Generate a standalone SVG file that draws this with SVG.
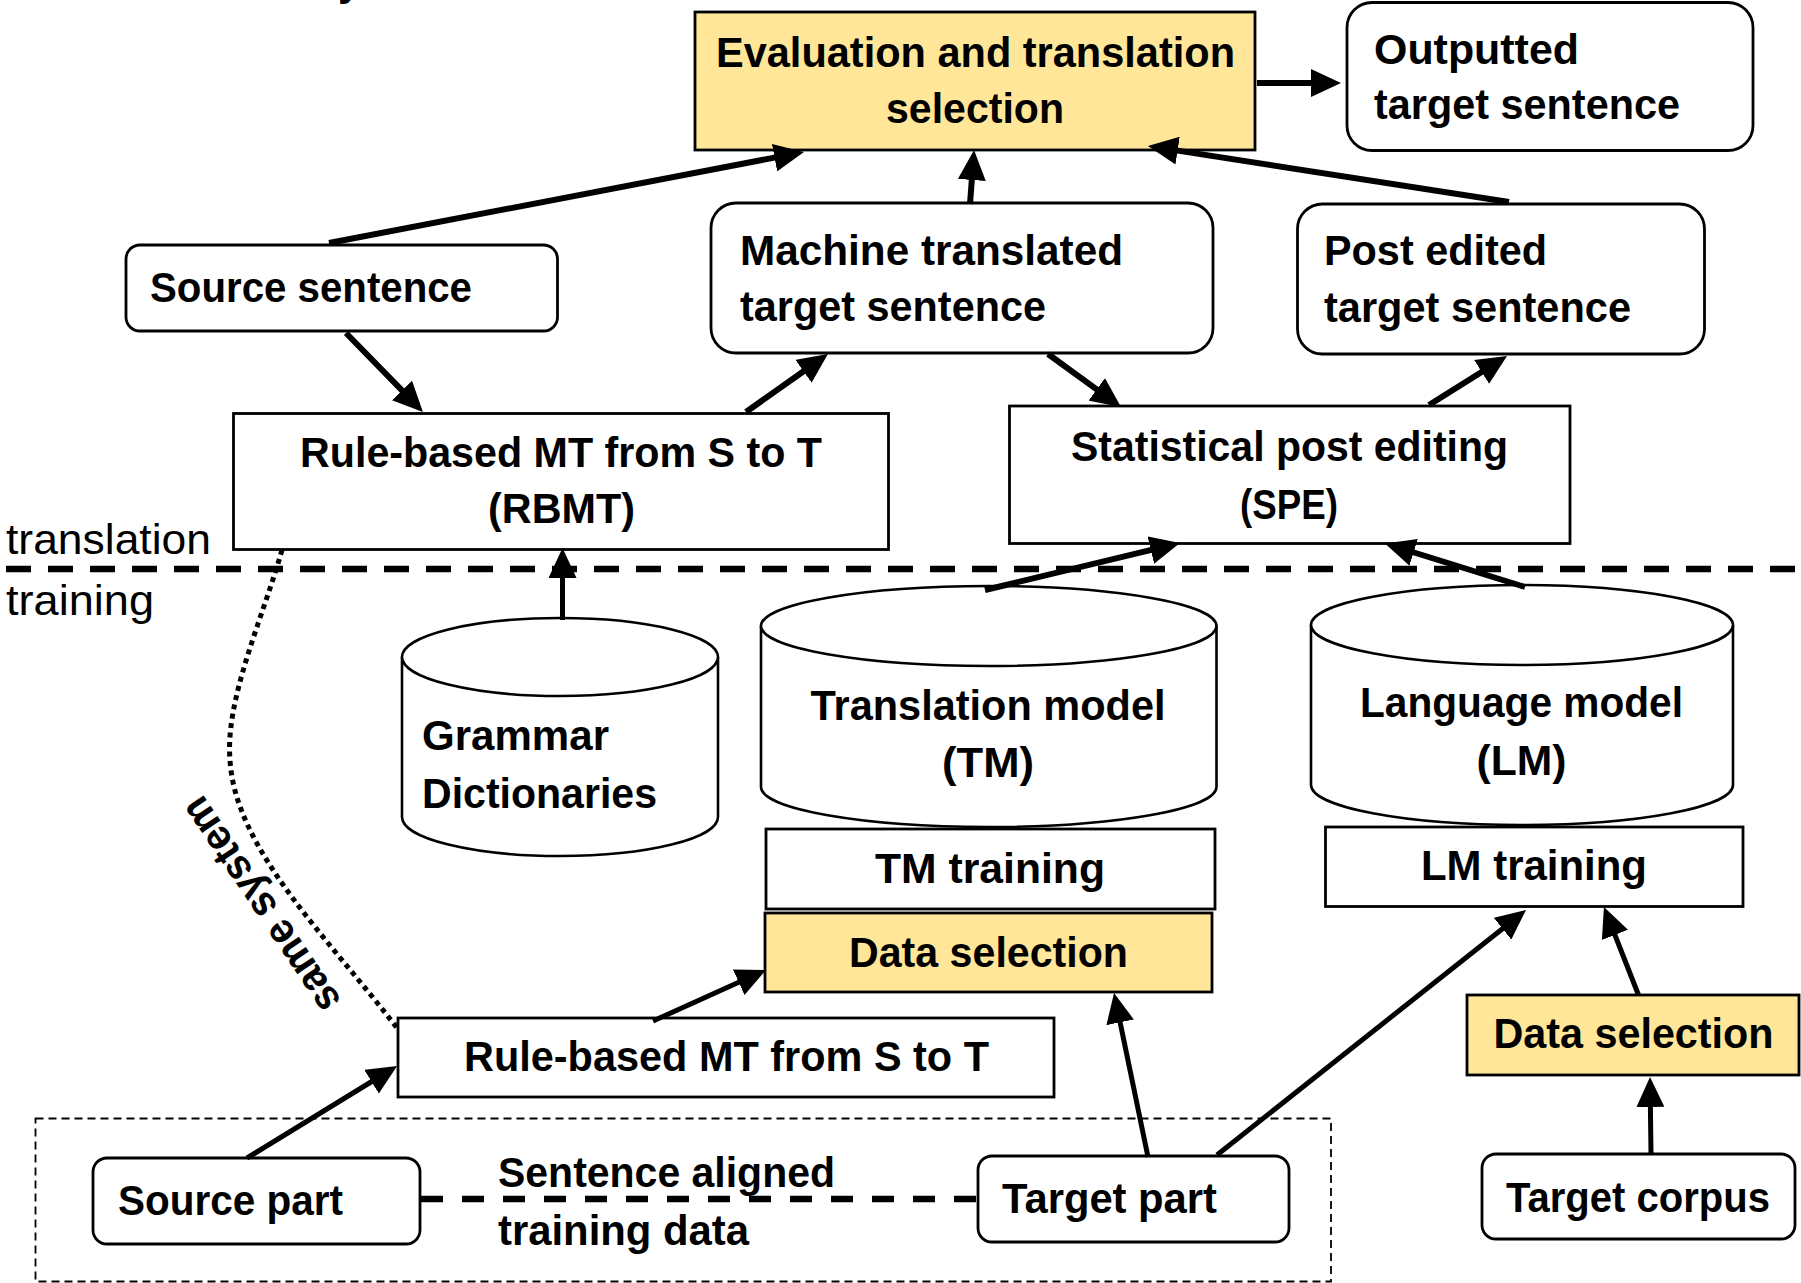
<svg xmlns="http://www.w3.org/2000/svg" width="1801" height="1283" viewBox="0 0 1801 1283">
  <defs>
    <marker id="arrow" markerUnits="userSpaceOnUse" markerWidth="30" markerHeight="28" viewBox="0 0 30 28" refX="8" refY="14" orient="auto">
      <path d="M0,0 L30,14 L0,28 Z" fill="#000"/>
    </marker>
    <style>
      .box { fill: #fff; stroke: #000; stroke-width: 2.8; }
      .sel { fill: #FFE699; stroke: #000; stroke-width: 2.8; }
      .can { fill: #fff; stroke: #000; stroke-width: 2.6; }
      .lbl { font-family: "Liberation Sans", Arial, sans-serif; font-weight: bold; font-size: 42px; fill: #000; }
      .reg { font-family: "Liberation Sans", Arial, sans-serif; font-weight: normal; font-size: 42px; fill: #000; }
      .mid { text-anchor: middle; }
      .conn { fill: none; stroke: #000; stroke-width: 6; marker-end: url(#arrow); }
      .conn.thin { stroke-width: 5; }
      .phase { fill: none; stroke: #000; stroke-width: 6.5; stroke-dasharray: 25 17; }
    </style>
  </defs>

  <!-- tail of a heading that runs off the top edge -->
  <text class="lbl" x="338" y="-5">y</text>

  <!-- phase separator -->
  <line class="phase" x1="6" y1="569" x2="1801" y2="569"/>
  <text class="reg" x="6" y="554" textLength="205" lengthAdjust="spacingAndGlyphs">translation</text>
  <text class="reg" x="6" y="615" textLength="148" lengthAdjust="spacingAndGlyphs">training</text>

  <!-- training data frame -->
  <rect x="35.5" y="1118.5" width="1295.5" height="163" fill="none" stroke="#000" stroke-width="1.8" stroke-dasharray="8 5"/>

  <g id="eval">
    <rect class="sel" x="695" y="12" width="560" height="138"/>
    <text class="lbl mid" x="975.5" y="67" textLength="519" lengthAdjust="spacingAndGlyphs">Evaluation and translation</text>
    <text class="lbl mid" x="975" y="123" textLength="178" lengthAdjust="spacingAndGlyphs">selection</text>
  </g>

  <g id="outputted">
    <rect class="box" x="1347" y="2.5" width="406" height="148" rx="25"/>
    <text class="lbl" x="1374" y="64" textLength="205" lengthAdjust="spacingAndGlyphs">Outputted</text>
    <text class="lbl" x="1374" y="119" textLength="306" lengthAdjust="spacingAndGlyphs">target sentence</text>
  </g>

  <g id="source-sentence">
    <rect class="box" x="126" y="245" width="431.5" height="86" rx="14"/>
    <text class="lbl" x="150" y="302" textLength="322" lengthAdjust="spacingAndGlyphs">Source sentence</text>
  </g>

  <g id="mt-target">
    <rect class="box" x="711" y="203" width="502" height="150" rx="25"/>
    <text class="lbl" x="740" y="265" textLength="383" lengthAdjust="spacingAndGlyphs">Machine translated</text>
    <text class="lbl" x="740" y="321" textLength="306" lengthAdjust="spacingAndGlyphs">target sentence</text>
  </g>

  <g id="pe-target">
    <rect class="box" x="1297.5" y="204" width="407" height="150" rx="25"/>
    <text class="lbl" x="1324" y="265" textLength="223" lengthAdjust="spacingAndGlyphs">Post edited</text>
    <text class="lbl" x="1324" y="322" textLength="307" lengthAdjust="spacingAndGlyphs">target sentence</text>
  </g>

  <g id="rbmt">
    <rect class="box" x="233.5" y="413.5" width="655" height="136"/>
    <text class="lbl mid" x="561" y="467" textLength="522" lengthAdjust="spacingAndGlyphs">Rule-based MT from S to T</text>
    <text class="lbl mid" x="561.5" y="523" textLength="147" lengthAdjust="spacingAndGlyphs">(RBMT)</text>
  </g>

  <g id="spe">
    <rect class="box" x="1009.5" y="406" width="560.5" height="137.5"/>
    <text class="lbl mid" x="1289.5" y="461" textLength="437" lengthAdjust="spacingAndGlyphs">Statistical post editing</text>
    <text class="lbl mid" x="1289" y="519" textLength="98" lengthAdjust="spacingAndGlyphs">(SPE)</text>
  </g>

  <g id="grammar">
    <path class="can" d="M402,657 A158,39 0 0 1 718,657 L718,817 A158,39 0 0 1 402,817 Z"/>
    <path class="can" fill="none" d="M402,657 A158,39 0 0 0 718,657"/>
    <text class="lbl" x="422" y="750" textLength="187" lengthAdjust="spacingAndGlyphs">Grammar</text>
    <text class="lbl" x="422" y="808" textLength="235" lengthAdjust="spacingAndGlyphs">Dictionaries</text>
  </g>

  <g id="tm">
    <path class="can" d="M761,626 A227.75,40 0 0 1 1216.5,626 L1216.5,787 A227.75,40 0 0 1 761,787 Z"/>
    <path class="can" fill="none" d="M761,626 A227.75,40 0 0 0 1216.5,626"/>
    <text class="lbl mid" x="988" y="720" textLength="355" lengthAdjust="spacingAndGlyphs">Translation model</text>
    <text class="lbl mid" x="988" y="777" textLength="92" lengthAdjust="spacingAndGlyphs">(TM)</text>
  </g>

  <g id="lm">
    <path class="can" d="M1311,625 A211,40 0 0 1 1733,625 L1733,785 A211,40 0 0 1 1311,785 Z"/>
    <path class="can" fill="none" d="M1311,625 A211,40 0 0 0 1733,625"/>
    <text class="lbl mid" x="1521.5" y="717" textLength="323" lengthAdjust="spacingAndGlyphs">Language model</text>
    <text class="lbl mid" x="1521.5" y="775" textLength="90" lengthAdjust="spacingAndGlyphs">(LM)</text>
  </g>

  <g id="tm-training">
    <rect class="box" x="766" y="829" width="449" height="80"/>
    <text class="lbl mid" x="990" y="883" textLength="230" lengthAdjust="spacingAndGlyphs">TM training</text>
  </g>

  <g id="tm-data-selection">
    <rect class="sel" x="765" y="913" width="447" height="79"/>
    <text class="lbl mid" x="988.5" y="967" textLength="279" lengthAdjust="spacingAndGlyphs">Data selection</text>
  </g>

  <g id="lm-training">
    <rect class="box" x="1325.5" y="827" width="417.5" height="79.5"/>
    <text class="lbl mid" x="1534" y="880" textLength="226" lengthAdjust="spacingAndGlyphs">LM training</text>
  </g>

  <g id="lm-data-selection">
    <rect class="sel" x="1467" y="995" width="332" height="80"/>
    <text class="lbl mid" x="1633.5" y="1048" textLength="280" lengthAdjust="spacingAndGlyphs">Data selection</text>
  </g>

  <g id="rbmt-train">
    <rect class="box" x="398" y="1018" width="656" height="79"/>
    <text class="lbl mid" x="726.5" y="1071" textLength="525" lengthAdjust="spacingAndGlyphs">Rule-based MT from S to T</text>
  </g>

  <g id="source-part">
    <rect class="box" x="93" y="1158" width="327" height="86" rx="14"/>
    <text class="lbl" x="118" y="1215" textLength="225" lengthAdjust="spacingAndGlyphs">Source part</text>
  </g>

  <g id="target-part">
    <rect class="box" x="978" y="1156" width="311" height="86" rx="14"/>
    <text class="lbl" x="1002" y="1213" textLength="215" lengthAdjust="spacingAndGlyphs">Target part</text>
  </g>

  <g id="target-corpus">
    <rect class="box" x="1482" y="1154" width="313" height="85" rx="14"/>
    <text class="lbl" x="1506" y="1212" textLength="264" lengthAdjust="spacingAndGlyphs">Target corpus</text>
  </g>

  <g id="connectors">
    <line class="conn" x1="329" y1="243" x2="782.4" y2="156.1"/>
    <line class="conn" x1="970" y1="204" x2="972.4" y2="172"/>
    <line class="conn" x1="1509" y1="202" x2="1169.7" y2="149.4"/>
    <line class="conn" x1="1257" y1="83" x2="1319" y2="83"/>
    <line class="conn" x1="346" y1="333" x2="407.6" y2="396.2"/>
    <line class="conn" x1="746" y1="412" x2="810" y2="366.7"/>
    <line class="conn" x1="1048" y1="354" x2="1103.2" y2="394.1"/>
    <line class="conn" x1="1429" y1="405" x2="1488.4" y2="367.7"/>
    <line class="conn thin" x1="562.5" y1="620" x2="562.5" y2="570"/>
    <line class="conn" x1="985" y1="590" x2="1158.6" y2="548.2"/>
    <line class="conn" x1="1525" y1="587" x2="1406" y2="550"/>
    <line class="conn thin" x1="653" y1="1021" x2="746" y2="979"/>
    <line class="conn thin" x1="247" y1="1158" x2="378.3" y2="1077.5"/>
    <line class="conn thin" x1="1148" y1="1157" x2="1118.5" y2="1014.5"/>
    <line class="conn thin" x1="1217" y1="1155" x2="1508.8" y2="923.7"/>
    <line class="conn thin" x1="1638.5" y1="995" x2="1612" y2="927.5"/>
    <line class="conn thin" x1="1651" y1="1153" x2="1650.3" y2="1099"/>
    <!-- sentence alignment between source and target parts -->
    <line x1="421" y1="1199" x2="978" y2="1199" stroke="#000" stroke-width="6.5" stroke-dasharray="22 19"/>
    <!-- the two RBMT boxes are one system -->
    <path d="M282,550 C262,620 225,700 230,760 C235,850 330,940 397,1028" fill="none" stroke="#000" stroke-width="5" stroke-dasharray="5 4.5"/>
  </g>

  <text class="lbl mid" x="0" y="0" transform="translate(272,897) rotate(-124)" textLength="250" lengthAdjust="spacingAndGlyphs">same system</text>
  <text class="lbl" x="498" y="1187" textLength="337" lengthAdjust="spacingAndGlyphs">Sentence aligned</text>
  <text class="lbl" x="498" y="1245" textLength="251" lengthAdjust="spacingAndGlyphs">training data</text>
</svg>
